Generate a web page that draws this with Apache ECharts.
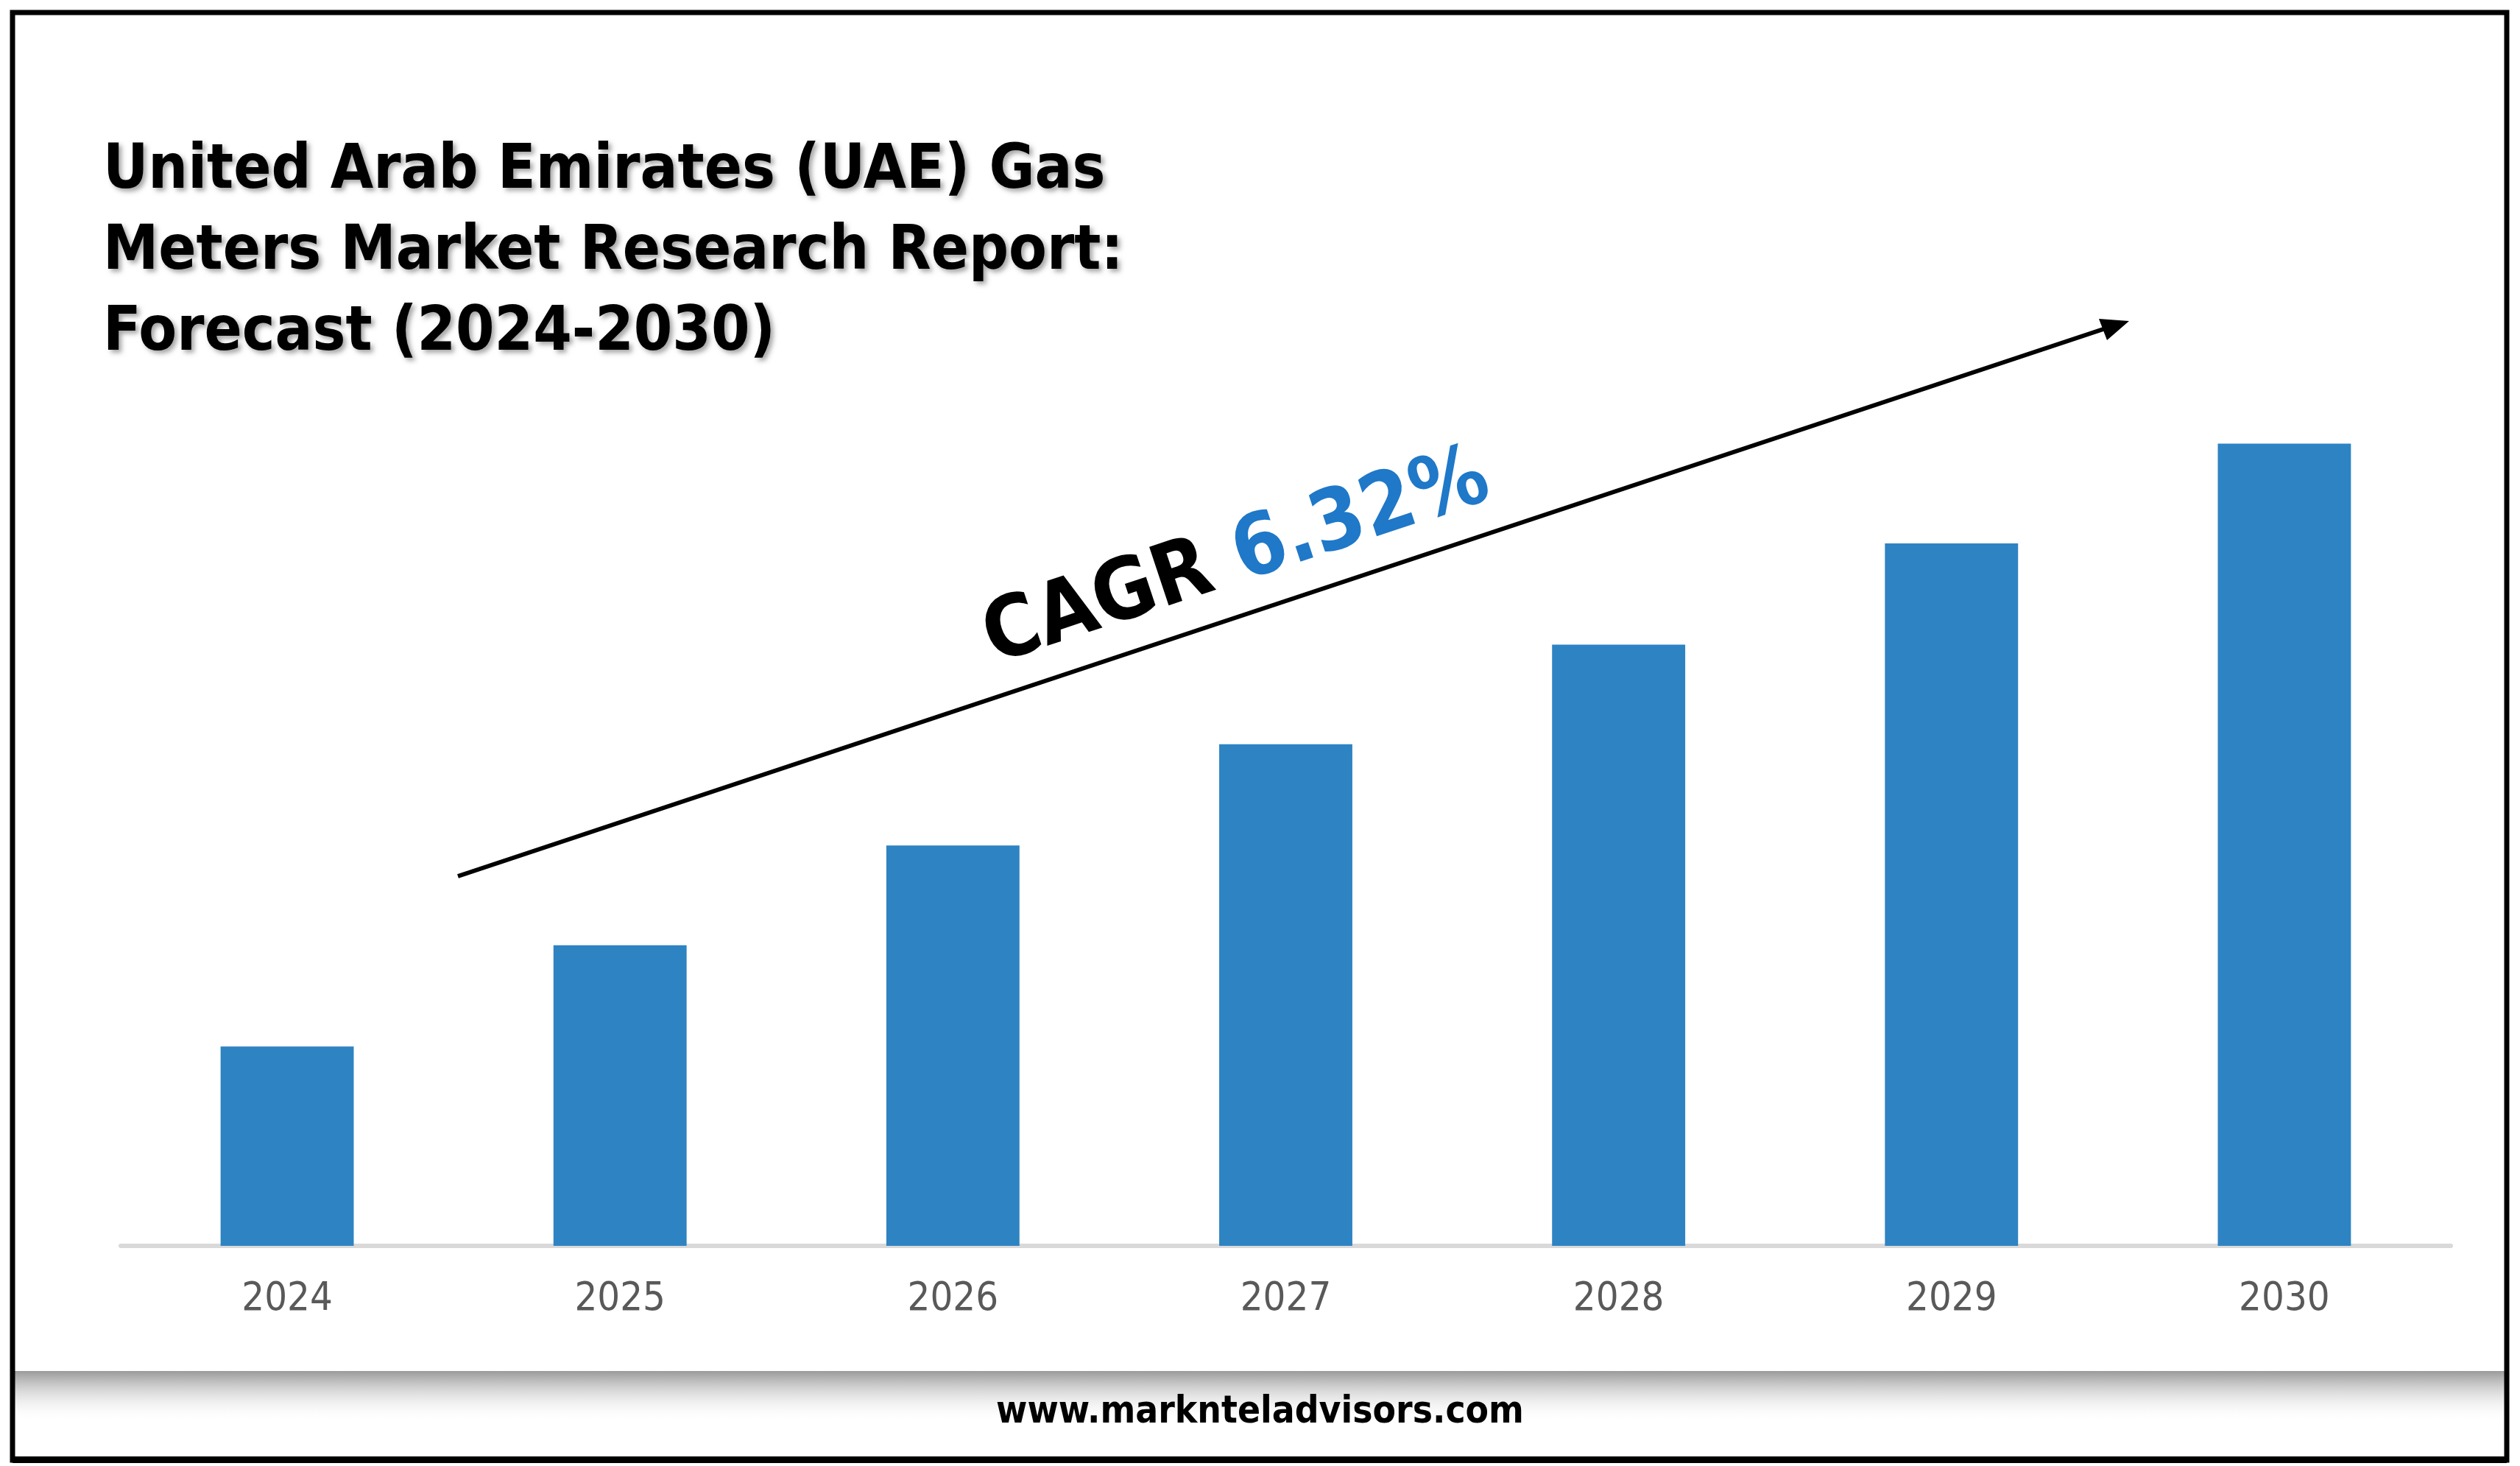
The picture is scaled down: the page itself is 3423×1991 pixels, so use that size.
<!DOCTYPE html>
<html><head><meta charset="utf-8">
<script src="https://cdn.jsdelivr.net/npm/echarts@6/dist/echarts.min.js"></script>
<style>html,body{margin:0;padding:0;background:#fff}#c{width:3423px;height:1991px}</style>
</head><body><div id="c"></div>
<script>
const categories = ['2024','2025','2026','2027','2028','2029','2030'];
const values = [124,187,249,312,374,437,499];
const titleLines = ['United Arab Emirates (UAE) Gas','Meters Market Research Report:','Forecast (2024-2030)'];
const cagr = '6.32%';
const footer = 'www.marknteladvisors.com';

const chart = echarts.init(document.getElementById('c'));
chart.setOption({
  animation:false,
  backgroundColor:'#fff',
  grid:{left:164,right:94,top:382,bottom:299},
  xAxis:{type:'category',data:categories,
    axisLine:{lineStyle:{color:'#d9d9d9',width:6}},axisTick:{show:false},
    axisLabel:{color:'#595959',fontSize:54,fontFamily:'DejaVu Sans Condensed, DejaVu Sans',margin:46}},
  yAxis:{type:'value',min:0,max:600,show:false,splitLine:{show:false}},
  series:[{type:'bar',data:values,barWidth:'40%',itemStyle:{color:'#2e83c3'}}],
  graphic:[
    {type:'rect',shape:{x:20,y:1862,width:3383,height:70},style:{fill:new echarts.graphic.LinearGradient(0,0,0,1,[{offset:0,color:'#9a9a9a'},{offset:1,color:'rgba(255,255,255,0)'}])}},
    {type:'rect',shape:{x:17,y:17,width:3388,height:1966},style:{fill:'none',stroke:'#000',lineWidth:7}},
    {type:'rect',shape:{x:17,y:1978,width:3388,height:9},style:{fill:'#000'}},
    {type:'text',left:'center',top:1893,style:{text:footer,fill:'#000',font:'bold 51px "DejaVu Sans Condensed", "DejaVu Sans"'}},
    {type:'text',left:140,top:178,style:{text:titleLines.join('\n'),fill:'#000',lineHeight:110,
      font:'bold 84px "DejaVu Sans Condensed", "DejaVu Sans"',textShadowColor:'rgba(0,0,0,0.35)',textShadowBlur:6,textShadowOffsetX:4,textShadowOffsetY:4}},
    {type:'line',shape:{x1:622,y1:1190,x2:2860,y2:446},style:{stroke:'#000',lineWidth:6}},
    {type:'polygon',shape:{points:[[2892,436],[2851,433],[2862,462]]},style:{fill:'#000'}},
    {type:'text',x:1680,y:760,rotation:18.4*Math.PI/180,
      style:{text:'{a|CAGR }{b|'+cagr+'}',align:'center',verticalAlign:'middle',
        rich:{a:{fill:'#000',font:'bold 115px "DejaVu Sans Condensed", "DejaVu Sans"'},
              b:{fill:'#1f78c8',font:'bold 115px "DejaVu Sans Condensed", "DejaVu Sans"'}}}}
  ]
});
</script></body></html>
